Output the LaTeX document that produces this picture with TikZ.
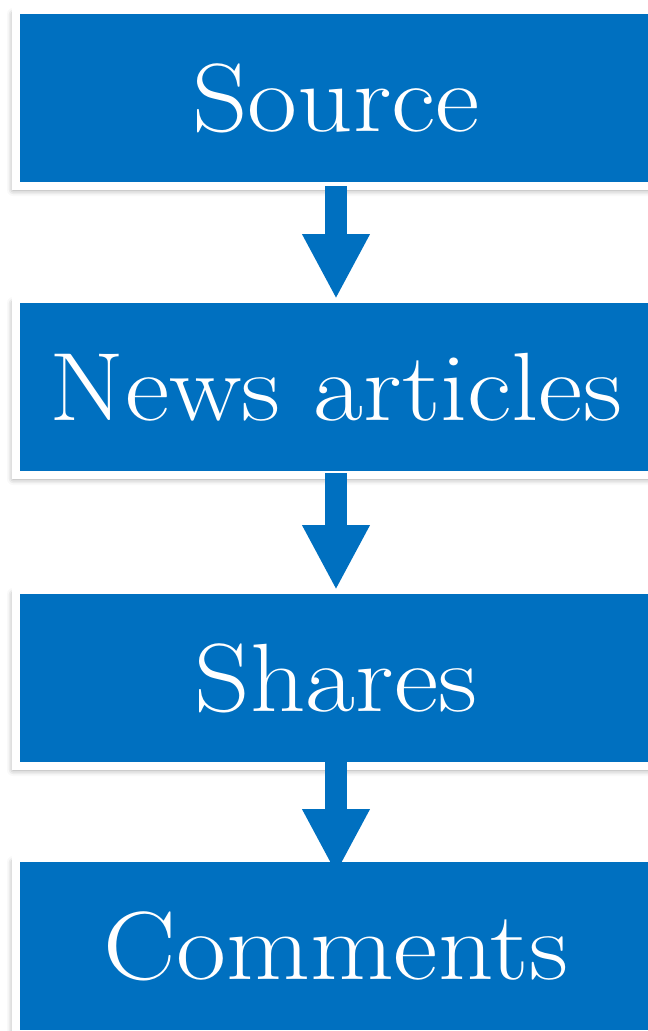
\documentclass[tikz,border=0pt]{standalone}
\usepackage{fontspec}
\setmainfont{Latin Modern Roman}[FakeStretch=1.12]
\usepackage{xcolor}
\usetikzlibrary{arrows.meta,positioning,shadows.blur}
\definecolor{flowblue}{RGB}{0,112,192}
\tikzset{
  flowbox/.style={rectangle,fill=flowblue,draw=white,line width=8pt,outer sep=0pt,
    minimum width=640pt,minimum height=176pt,inner sep=0pt,text=white,
    font=\fontsize{97}{100}\selectfont,
    blur shadow={shadow xshift=-3pt,shadow yshift=-4pt,shadow blur radius=6pt,shadow opacity=40}},
  flowarrow/.style={draw=flowblue,line width=22pt,-{Triangle[width=63pt,length=65pt]}}
}
\begin{document}
\begin{tikzpicture}[x=1pt,y=-1pt]
\useasboundingbox (0,0) rectangle (648,1031);
\clip (0,0) rectangle (648,1031);
% boxes
\node[flowbox] (source) at (336,98) {Source};
\node[flowbox,below=113pt of source] (news) {News articles};
\node[flowbox,below=115pt of news] (shares) {Shares};
\node[flowbox,below=92pt of shares] (comments) {Comments};
% arrows
\draw[flowarrow] (source.south) -- (news.north);
\draw[flowarrow,shorten <=-2pt] (news.south) -- (shares.north);
\draw[flowarrow,shorten <=-11pt,shorten >=-16pt] (shares.south) -- (comments.north);
\end{tikzpicture}
\end{document}
